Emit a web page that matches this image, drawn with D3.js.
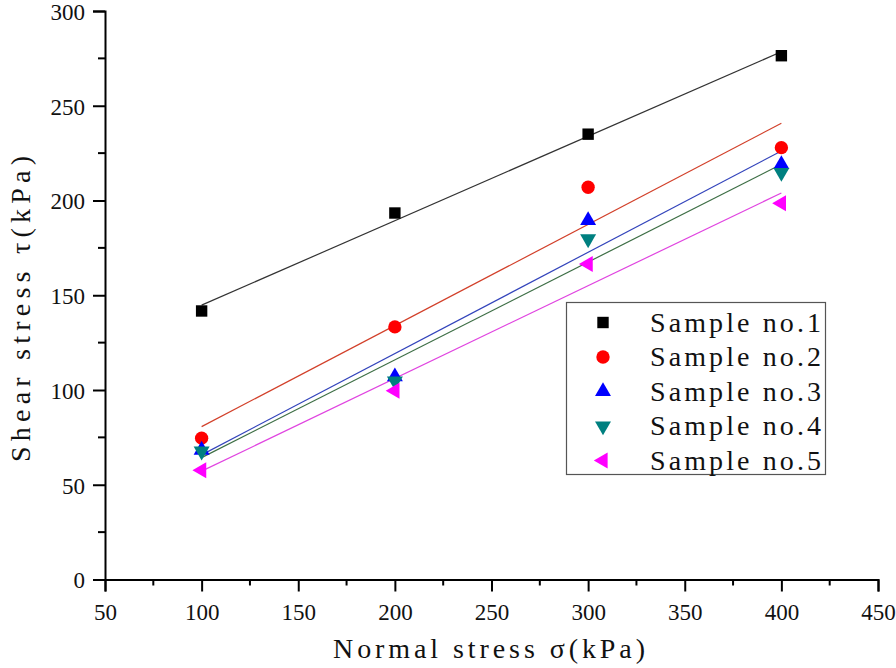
<!DOCTYPE html>
<html lang="en-US">
  <head>
    <style>
      body { margin: 0; background: #fff; }
      svg text { fill: #111; }
    </style>
  </head>
  <body>
    <div id="chart"></div>
    <script src="https://cdnjs.cloudflare.com/ajax/libs/d3/7.8.5/d3.min.js"></script>
    <script>
      var WIDTH = 896;
      var HEIGHT = 668;

      // normal stress (kPa)
      var normalStress = [100, 200, 300, 400];
      // shear stress (kPa)
      var sample1 = [141.7, 193.4, 235.0, 276.4];
      var sample2 = [74.6, 133.3, 207.0, 227.9];
      var sample3 = [68.3, 107.0, 189.5, 219.0];
      var sample4 = [67.7, 104.7, 179.7, 214.7];
      var sample5 = [57.7, 99.6, 166.5, 198.5];
      var seriesNames = ['Sample no.1', 'Sample no.2', 'Sample no.3', 'Sample no.4', 'Sample no.5'];
      var xTicks = [50, 100, 150, 200, 250, 300, 350, 400, 450];
      var yTicks = [0, 50, 100, 150, 200, 250, 300];

      var markerColors = ['#000000', '#ff0000', '#0000ff', '#008080', '#ff00ff'];
      var lineColors = ['#333333', '#d2402a', '#3344bb', '#3d6e45', '#e045e0'];
      var shapes = ['square', 'circle', 'up', 'down', 'left'];
      var allSeries = [sample1, sample2, sample3, sample4, sample5];

      var SERIF = '"Liberation Serif", "Times New Roman", serif';

      var x = d3.scaleLinear().domain([50, 450]).range([105, 878]);
      var y = d3.scaleLinear().domain([0, 300]).range([579.5, 11]);

      var svg = d3.select('#chart').append('svg').attr('width', WIDTH).attr('height', HEIGHT);

      // least squares fit for each sample
      function fit(xs, ys) {
        var mx = d3.mean(xs), my = d3.mean(ys);
        var num = d3.sum(xs, (v, i) => (v - mx) * (ys[i] - my));
        var den = d3.sum(xs, v => (v - mx) * (v - mx));
        var k = num / den;
        return v => my + k * (v - mx);
      }

      function symbolPath(shape) {
        if (shape === 'square') return d3.symbol(d3.symbolSquare, 130)();
        if (shape === 'circle') return d3.symbol(d3.symbolCircle, 140)();
        return d3.symbol(d3.symbolTriangle, 110)();
      }
      function symbolRotate(shape) {
        if (shape === 'down') return 180;
        if (shape === 'left') return -90;
        return 0;
      }

      // fit lines
      var xEnds = [d3.min(normalStress), d3.max(normalStress)];
      allSeries.forEach(function (vals, i) {
        var f = fit(normalStress, vals);
        svg.append('line')
          .attr('x1', x(xEnds[0])).attr('y1', y(f(xEnds[0])))
          .attr('x2', x(xEnds[1])).attr('y2', y(f(xEnds[1])))
          .attr('stroke', lineColors[i]).attr('stroke-width', 1.2);
      });

      // markers
      allSeries.forEach(function (vals, i) {
        svg.append('g').selectAll('path')
          .data(vals)
          .join('path')
          .attr('d', symbolPath(shapes[i]))
          .attr('transform', (d, j) => 'translate(' + x(normalStress[j]) + ',' + y(d) + ') rotate(' + symbolRotate(shapes[i]) + ')')
          .attr('fill', markerColors[i]);
      });

      // axes
      var xAxis = d3.axisBottom(x).tickValues(xTicks).tickSize(12).tickPadding(10);
      var gx = svg.append('g').attr('transform', 'translate(0,' + y(0) + ')').call(xAxis);
      var yAxis = d3.axisLeft(y).tickValues(yTicks).tickSize(12).tickPadding(8);
      var gy = svg.append('g').attr('transform', 'translate(' + x(50) + ',0)').call(yAxis);

      // minor ticks
      var xMinor = d3.range(75, 450, 50);
      gx.selectAll('.minor').data(xMinor).join('line').attr('class', 'minor')
        .attr('x1', d => x(d)).attr('x2', d => x(d)).attr('y1', 0).attr('y2', 6)
        .attr('stroke', '#000').attr('stroke-width', 2);
      var yMinor = d3.range(25, 300, 50);
      gy.selectAll('.minor').data(yMinor).join('line').attr('class', 'minor')
        .attr('y1', d => y(d)).attr('y2', d => y(d)).attr('x1', 0).attr('x2', -7)
        .attr('stroke', '#000').attr('stroke-width', 2);

      [gx, gy].forEach(function (g) {
        g.attr('font-family', null).attr('font-size', null);
        g.select('.domain').attr('stroke-width', 2).attr('stroke', '#000');
        g.selectAll('.tick line').attr('stroke-width', 2).attr('stroke', '#000');
        g.selectAll('.tick text')
          .style('font-family', SERIF).style('font-size', '23px');
      });
      gx.selectAll('.tick text').attr('dy', '0.8em');
      gy.selectAll('.tick text').attr('dy', '0.36em');

      // axis titles
      svg.append('text')
        .attr('x', 489).attr('y', 658)
        .attr('text-anchor', 'middle')
        .style('font-family', SERIF).style('font-size', '28px')
        .attr('textLength', 312).attr('lengthAdjust', 'spacing')
        .text('Normal stress σ(kPa)');
      svg.append('text')
        .attr('transform', 'translate(30,' + 309 + ') rotate(-90)')
        .attr('text-anchor', 'middle')
        .style('font-family', SERIF).style('font-size', '28px')
        .attr('textLength', 306).attr('lengthAdjust', 'spacing')
        .text('Shear stress τ(kPa)');

      // legend
      var legend = svg.append('g');
      legend.append('rect')
        .attr('x', 566.5).attr('y', 302.5).attr('width', 259).attr('height', 172)
        .attr('fill', '#fff').attr('stroke', '#555').attr('stroke-width', 1.2);
      seriesNames.forEach(function (name, i) {
        var cy = 322.5 + i * 34.5;
        legend.append('path')
          .attr('d', symbolPath(shapes[i]))
          .attr('transform', 'translate(603,' + cy + ') rotate(' + symbolRotate(shapes[i]) + ')')
          .attr('fill', markerColors[i]);
        legend.append('text')
          .attr('x', 650).attr('y', cy + 9)
          .style('font-family', SERIF).style('font-size', '28px')
          .attr('textLength', 171).attr('lengthAdjust', 'spacing')
          .text(name);
      });
    </script>
  </body>
</html>
